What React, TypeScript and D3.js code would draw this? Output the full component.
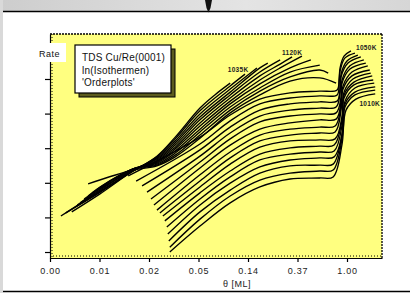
import { useEffect, useRef } from "react";
import * as d3 from "d3";

// x axis is ln(theta), ticks are labelled with theta itself
const xTicks = [-6, -5, -4, -3, -2, -1, 0];
const xTickLabels = ["0.00", "0.01", "0.02", "0.05", "0.14", "0.37", "1.00"];
const yTicks = [0, 1, 2, 3, 4, 5];

// isotherms that end before the monolayer: [ln theta, ln rate]
const upperIsotherms = [
  [[-5.78, 1.04], [-4.99, 1.76], [-4.32, 2.34], [-3.84, 2.77], [-3.47, 3.32], [-2.97, 4.16], [-2.67, 4.54], [-2.36, 4.88]],
  [[-5.68, 1.13], [-4.99, 1.73], [-4.32, 2.34], [-3.84, 2.75], [-3.47, 3.27], [-2.97, 4.08], [-2.36, 4.8], [-2.06, 5.14]],
  [[-5.56, 1.16], [-4.99, 1.68], [-4.32, 2.34], [-3.84, 2.72], [-3.47, 3.21], [-2.97, 3.99], [-2.36, 4.71], [-1.82, 5.32]],
  [[-5.49, 1.3], [-4.99, 1.73], [-4.32, 2.37], [-3.84, 2.69], [-3.47, 3.15], [-2.97, 3.9], [-2.36, 4.62], [-1.76, 5.32], [-1.6, 5.46]],
  [[-5.45, 1.36], [-4.99, 1.79], [-4.32, 2.37], [-3.84, 2.66], [-3.47, 3.09], [-2.97, 3.82], [-2.36, 4.54], [-1.76, 5.2], [-1.35, 5.55]],
  [[-5.39, 1.42], [-4.99, 1.82], [-4.32, 2.37], [-3.84, 2.63], [-3.47, 3.03], [-2.97, 3.73], [-2.36, 4.45], [-1.76, 5.09], [-1.35, 5.43], [-1.11, 5.64]],
  [[-5.31, 1.53], [-4.99, 1.85], [-4.32, 2.4], [-3.84, 2.6], [-3.47, 2.98], [-2.97, 3.64], [-2.36, 4.36], [-1.76, 4.97], [-1.35, 5.32], [-0.91, 5.66]],
  [[-5.23, 1.62], [-4.99, 1.88], [-4.32, 2.4], [-3.84, 2.57], [-3.47, 2.92], [-2.97, 3.55], [-2.36, 4.28], [-1.76, 4.86], [-1.15, 5.32], [-0.73, 5.55]],
  [[-5.15, 1.71], [-4.79, 1.99], [-4.32, 2.4], [-3.84, 2.54], [-3.47, 2.86], [-2.97, 3.47], [-2.36, 4.19], [-1.76, 4.74], [-1.15, 5.2], [-0.55, 5.4]],
  [[-5.07, 1.79], [-4.32, 2.4], [-3.84, 2.51], [-3.47, 2.8], [-2.97, 3.38], [-2.36, 4.1], [-1.76, 4.65], [-1.15, 5.06], [-0.55, 5.26], [-0.38, 5.17]],
  [[-5.23, 1.97], [-4.32, 2.37], [-3.84, 2.49], [-3.47, 2.75], [-2.97, 3.29], [-2.36, 4.02], [-1.76, 4.54], [-1.15, 4.94], [-0.55, 5.03], [-0.22, 4.88]],
];

// isotherms that run through the plateau and rise past theta = 1
const lowerIsotherms = [
  [[-4.42, 2.2], [-2.97, 3.32], [-2.36, 3.96], [-1.76, 4.42], [-1.15, 4.6], [-0.55, 4.65], [-0.2, 4.68], [-0.16, 5.0], [-0.14, 5.32], [-0.06, 5.66], [0.08, 5.81]],
  [[-4.26, 2.05], [-2.97, 3.12], [-2.36, 3.79], [-1.76, 4.28], [-1.15, 4.45], [-0.55, 4.51], [-0.2, 4.54], [-0.16, 4.88], [-0.14, 5.23], [-0.04, 5.61], [0.16, 5.75]],
  [[-4.14, 1.91], [-2.97, 2.95], [-2.36, 3.61], [-1.76, 4.1], [-1.15, 4.28], [-0.55, 4.34], [-0.2, 4.36], [-0.14, 4.74], [-0.12, 5.14], [0.0, 5.52], [0.22, 5.69]],
  [[-4.04, 1.73], [-2.97, 2.77], [-2.36, 3.44], [-1.76, 3.93], [-1.15, 4.1], [-0.55, 4.16], [-0.22, 4.19], [-0.14, 4.62], [-0.12, 5.06], [0.02, 5.46], [0.28, 5.64]],
  [[-3.96, 1.53], [-2.97, 2.6], [-2.36, 3.27], [-1.76, 3.76], [-1.15, 3.93], [-0.55, 3.99], [-0.22, 4.02], [-0.12, 4.48], [-0.1, 4.97], [0.06, 5.38], [0.34, 5.55]],
  [[-3.9, 1.36], [-2.97, 2.43], [-2.36, 3.09], [-1.76, 3.55], [-1.15, 3.73], [-0.55, 3.82], [-0.22, 3.84], [-0.12, 4.36], [-0.1, 4.88], [0.06, 5.29], [0.38, 5.46]],
  [[-3.84, 1.21], [-2.97, 2.23], [-2.36, 2.89], [-1.76, 3.38], [-1.15, 3.55], [-0.55, 3.61], [-0.24, 3.64], [-0.12, 4.22], [-0.08, 4.8], [0.1, 5.2], [0.42, 5.38]],
  [[-3.78, 1.13], [-2.97, 2.05], [-2.36, 2.72], [-1.76, 3.21], [-1.15, 3.38], [-0.55, 3.44], [-0.24, 3.47], [-0.12, 4.1], [-0.08, 4.71], [0.1, 5.09], [0.46, 5.26]],
  [[-3.72, 1.04], [-2.97, 1.88], [-2.36, 2.54], [-1.76, 3.03], [-1.15, 3.21], [-0.55, 3.24], [-0.24, 3.27], [-0.1, 3.93], [-0.06, 4.62], [0.12, 5.0], [0.48, 5.17]],
  [[-3.68, 0.9], [-2.97, 1.71], [-2.36, 2.34], [-1.76, 2.83], [-1.15, 3.01], [-0.55, 3.06], [-0.26, 3.09], [-0.1, 3.82], [-0.06, 4.54], [0.14, 4.91], [0.51, 5.09]],
  [[-3.64, 0.72], [-2.97, 1.53], [-2.36, 2.17], [-1.76, 2.66], [-1.15, 2.83], [-0.55, 2.89], [-0.26, 2.92], [-0.1, 3.67], [-0.06, 4.45], [0.14, 4.83], [0.53, 4.97]],
  [[-3.62, 0.52], [-2.97, 1.36], [-2.36, 1.99], [-1.76, 2.46], [-1.15, 2.66], [-0.55, 2.72], [-0.26, 2.75], [-0.08, 3.55], [-0.04, 4.36], [0.16, 4.74], [0.55, 4.88]],
  [[-3.6, 0.32], [-2.97, 1.16], [-2.36, 1.79], [-1.76, 2.28], [-1.15, 2.49], [-0.55, 2.51], [-0.28, 2.54], [-0.1, 3.41], [-0.04, 4.28], [0.16, 4.62], [0.57, 4.77]],
  [[-3.58, 0.14], [-2.97, 0.95], [-2.36, 1.62], [-1.76, 2.08], [-1.15, 2.28], [-0.55, 2.34], [-0.28, 2.37], [-0.1, 3.29], [-0.04, 4.19], [0.16, 4.54], [0.57, 4.68]],
  [[-3.58, 0.0], [-2.97, 0.75], [-2.36, 1.42], [-1.76, 1.88], [-1.15, 2.11], [-0.55, 2.14], [-0.28, 2.17], [-0.1, 3.12], [-0.02, 4.1], [0.18, 4.42], [0.57, 4.57]],
];

const tempNames = ["1035K", "1120K", "1050K", "1010K"];
const tempX = [-2.2, -1.11, 0.39, 0.46];
const tempY = [5.26, 5.76, 5.9, 4.28];

const legendLines = ["TDS Cu/Re(0001)", "ln(Isothermen)", "'Orderplots'"];

const font = "Arial, 'Liberation Sans', sans-serif";

export default function App() {
  const xAxisRef = useRef<SVGGElement>(null);
  const yAxisRef = useRef<SVGGElement>(null);

  const x = d3.scaleLinear().domain([-6, 0.707]).range([50, 382]);
  const y = d3.scaleLinear().domain([-0.173, 6.3]).range([258, 34]);
  const [x0, x1] = x.range();
  const [y0, y1] = y.range();

  const line = d3
    .line<number[]>()
    .x((d) => x(d[0]))
    .y((d) => y(d[1]))
    .curve(d3.curveCatmullRom.alpha(0.5));

  useEffect(() => {
    const gx = d3.select(xAxisRef.current);
    gx.selectAll("*").remove();
    gx.call(
      d3
        .axisBottom(x)
        .tickValues(xTicks)
        .tickFormat((_, i) => xTickLabels[i])
        .tickSize(4)
        .tickSizeOuter(0)
        .tickPadding(6)
    );
    gx.selectAll("path, line").attr("stroke", "#000").attr("stroke-width", 1.2);
    gx.selectAll("text")
      .attr("font-family", font)
      .attr("font-size", 9)
      .attr("letter-spacing", 0.8)
      .attr("fill", "#222");

    const gy = d3.select(yAxisRef.current);
    gy.selectAll("*").remove();
    gy.call(
      d3
        .axisLeft(y)
        .tickValues(yTicks)
        .tickFormat(() => "")
        .tickSize(5)
        .tickSizeOuter(0)
    );
    gy.selectAll("path, line").attr("stroke", "#000").attr("stroke-width", 1.2);
  }, []);

  return (
    <svg
      width={410}
      height={293}
      style={{ position: "absolute", left: 0, top: 0, background: "#fff" }}
    >
      <defs>
        <linearGradient id="topband" x1="0" x2="1" y1="0" y2="0">
          <stop offset="0" stopColor="#cdcdcd" />
          <stop offset="0.6" stopColor="#e4e4e4" />
          <stop offset="1" stopColor="#d6d6d6" />
        </linearGradient>
      </defs>
      {/* window chrome */}
      <rect x={0} y={0} width={410} height={11} fill="url(#topband)" />
      <rect x={0} y={0} width={3} height={293} fill="#d9d9d9" />
      <line x1={3} x2={410} y1={11.5} y2={11.5} stroke="#000" strokeWidth={1.5} />
      <path d="M205,0 L212,0 L210.5,8 L208.5,12.5 L206.5,8 Z" fill="#111" />
      <line x1={3} x2={410} y1={291.5} y2={291.5} stroke="#000" strokeWidth={1.5} />

      {/* plot area */}
      <rect x={x0} y={y1} width={x1 - x0} height={y0 - y1} fill="#ffff80" />
      <line x1={x0} x2={x1} y1={y1} y2={y1} stroke="#000" strokeWidth={1.3} strokeDasharray="2 1" />
      <line x1={x1} x2={x1} y1={y1} y2={y0} stroke="#000" strokeWidth={1.3} strokeDasharray="2 1" />
      <line x1={x0} x2={x1} y1={y0 - 2} y2={y0 - 2} stroke="#000" strokeWidth={1} strokeDasharray="1 2" />
      <line x1={x0 + 2} x2={x0 + 2} y1={y1} y2={y0} stroke="#000" strokeWidth={1} strokeDasharray="1 2" />

      <g fill="none" stroke="#000" strokeWidth={1.35} strokeLinejoin="round">
        {upperIsotherms.map((c, i) => (
          <path key={"u" + i} d={line(c) ?? ""} />
        ))}
        {lowerIsotherms.map((c, i) => (
          <path key={"l" + i} d={line(c) ?? ""} />
        ))}
      </g>

      <g ref={xAxisRef} transform={`translate(0,${y0})`} />
      <g ref={yAxisRef} transform={`translate(${x0},0)`} />

      {tempNames.map((t, i) => (
        <text
          key={t}
          x={x(tempX[i])}
          y={y(tempY[i])}
          textAnchor="middle"
          dominantBaseline="central"
          fontFamily={font}
          fontSize={6.5}
          fontWeight="bold"
          letterSpacing={0.3}
          fill="#222"
        >
          {t}
        </text>
      ))}

      {/* legend box with shadow */}
      <rect x={79} y={49} width={96} height={48} fill="#5c5c1e" stroke="#000" strokeWidth={1} />
      <rect x={75} y={45} width={96} height={48} fill="#fff" stroke="#000" strokeWidth={1.2} />
      {legendLines.map((s, i) => (
        <text
          key={s}
          x={82}
          y={61 + i * 12.7}
          fontFamily={font}
          fontSize={10}
          letterSpacing={0.2}
          fill="#111"
        >
          {s}
        </text>
      ))}

      {/* y label */}
      <rect x={33} y={43} width={33} height={19} fill="#fff" />
      <text x={39} y={57} fontFamily={font} fontSize={9} letterSpacing={0.5} fill="#111">
        Rate
      </text>

      <text x={237} y={287} textAnchor="middle" fontFamily={font} fontSize={9} letterSpacing={0.5} fill="#222">
        θ [ML]
      </text>
    </svg>
  );
}
